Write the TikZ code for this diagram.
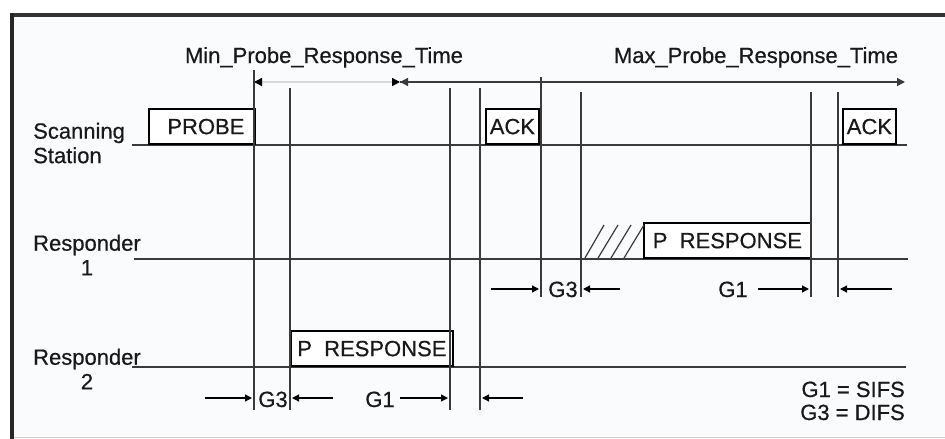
\documentclass[tikz,border=0pt]{standalone}
\usepackage{fontspec}
\setmainfont{Liberation Sans}[FakeBold=0.5]
\usetikzlibrary{arrows.meta}
\definecolor{bg}{HTML}{F9FBFC}
\definecolor{ln}{HTML}{3A3A3A}
\definecolor{frame}{HTML}{333333}
\tikzset{
  txt/.style={font=\fontsize{22}{24.5}\selectfont, inner sep=0pt, text=black!90},
  framebox/.style={draw=black, line width=1.8pt, fill=white, minimum height=35pt, inner sep=0pt, font=\fontsize{22}{24}\selectfont, text=black!90, anchor=south west},
  hline/.style={draw=ln, line width=1.8pt},
  vline/.style={draw=ln, line width=1.4pt},
  gap/.style={draw=black, line width=1.2pt, -{Triangle[length=7pt,width=7pt]}},
  timearrow/.style={line width=1.4pt},
  hatch/.style={draw=ln, line width=1.2pt}
}
\begin{document}
\begin{tikzpicture}[x=1pt,y=-1pt]
\useasboundingbox (0,0) rectangle (945,439);
% frame
\fill[bg] (12,15) rectangle (945,437);
\draw[black!20, line width=1pt] (12,437.5) -- (945,437.5);
\draw[frame, line width=4pt] (10,15) -- (945,15);
\draw[black!85, line width=4pt] (12,13) -- (12,439);

% time arrows
\coordinate (t0) at (254,82);
\coordinate (tm) at (400,82);
\coordinate (t1) at (905,82);
\draw[timearrow, draw=black!15, {Triangle[length=8pt,width=8pt,fill=black,color=black]}-{Triangle[length=8pt,width=8pt,fill=black,color=black]}] (t0) -- (tm);
\draw[timearrow, draw=ln, -{Triangle[length=8pt,width=8pt]}] (tm) -- (t1);
\draw[ln, line width=1.4pt, {Triangle[length=8pt,width=8pt]}-] (tm) -- ++(10,0);
\node[txt, anchor=base] (minlbl) at (324,63) {Min\_Probe\_Response\_Time};
\node[txt, anchor=base] (maxlbl) at (756,63) {Max\_Probe\_Response\_Time};

% station lines
\coordinate (s0) at (132,145); \coordinate (s1) at (907,145);
\coordinate (r10) at (134,259); \coordinate (r11) at (908,259);
\coordinate (r20) at (132,367); \coordinate (r21) at (906,367);
\draw[hline] (s0) -- (s1);
\draw[hline] (r10) -- (r11);
\draw[hline] (r20) -- (r21);

% labels
\node[txt, anchor=west, align=left] (sslbl) at (33,143) {Scanning\\Station};
\node[txt, align=center] (r1lbl) at (87,255) {Responder\\1};
\node[txt, align=center] (r2lbl) at (87,369) {Responder\\2};

% frames
\node[framebox, minimum width=106pt, text width=106pt, align=center] (probe) at (148,145) {\hspace*{8pt}PROBE};
\node[framebox, minimum width=53pt] (ack1) at (485,145) {ACK};
\node[framebox, minimum width=53pt] (ack2) at (842,145) {ACK};
\node[framebox, minimum width=167pt] (presp1) at (643,259) {P\ \ RESPONSE};
\node[framebox, minimum width=162pt] (presp2) at (290,367) {P\ \ RESPONSE};

% hatch
\foreach \b/\t in {585/604,598/618,611/631,624/644}
  \draw[hatch] (\b,258) -- (\t,225);

% vertical lines
\foreach \x/\a/\b in {254/70/410, 290/88/410, 450/88/410, 480/88/410, 541/77/297, 581/92/297, 811/92/297, 838/92/297}{
  \coordinate (va\x) at (\x,\a);
  \coordinate (vb\x) at (\x,\b);
  \draw[vline] (va\x) -- (vb\x);
}

% gaps, responder 2 row
\coordinate (a1) at (205,398); \coordinate (a1e) at (252,398);
\coordinate (a2) at (333,398); \coordinate (a2e) at (292,398);
\coordinate (a3) at (400,398); \coordinate (a3e) at (448,398);
\coordinate (a4) at (523,398); \coordinate (a4e) at (482,398);
\draw[gap] (a1) -- (a1e);
\draw[gap] (a2) -- (a2e);
\draw[gap] (a3) -- (a3e);
\draw[gap] (a4) -- (a4e);
\node[txt, anchor=base] (g3b) at (273,407) {G3};
\node[txt, anchor=base] (g1b) at (380,407) {G1};

% gaps, responder 1 row
\coordinate (b1) at (491,289); \coordinate (b1e) at (539,289);
\coordinate (b2) at (620,289); \coordinate (b2e) at (583,289);
\coordinate (b3) at (758,289); \coordinate (b3e) at (809,289);
\coordinate (b4) at (892,289); \coordinate (b4e) at (840,289);
\draw[gap] (b1) -- (b1e);
\draw[gap] (b2) -- (b2e);
\draw[gap] (b3) -- (b3e);
\draw[gap] (b4) -- (b4e);
\node[txt, anchor=base] (g3a) at (563,297) {G3};
\node[txt, anchor=base] (g1a) at (733,297) {G1};

% legend
\node[txt, anchor=base east] (leg1) at (905,397) {G1 = SIFS};
\node[txt, anchor=base east] (leg2) at (905,420) {G3 = DIFS};
\end{tikzpicture}
\end{document}
